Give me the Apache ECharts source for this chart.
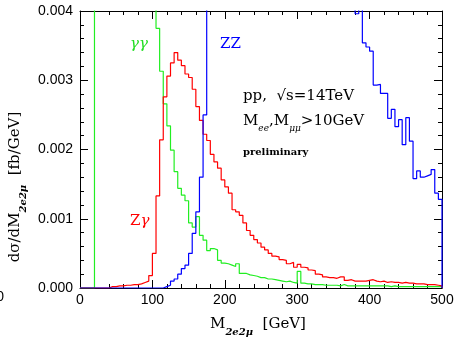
<!DOCTYPE html>
<html><head><meta charset="utf-8">
<script src="https://cdn.jsdelivr.net/npm/echarts@6/dist/echarts.min.js"></script>
<style>html,body{margin:0;padding:0;background:#fff}#c{width:457px;height:337px}</style>
</head><body><div id="c"></div>
<script>
// Histogram bins: 5 GeV wide, from 0 to 500 GeV (bin i covers [5i, 5i+5])
const binWidth = 5;
const xTicks = [0, 100, 200, 300, 400, 500];
const yTicks = [0.000, 0.001, 0.002, 0.003, 0.004];

// gamma-gamma (green); bins 20-105 GeV run far above the frame
const gammaGamma = [
  0,0,0,0, 0.03,0.03,0.028,0.026,0.024,0.022,0.02,0.018,0.016,0.014,0.012,0.011,0.01,0.009,0.008,0.006,0.0048,
  0.00375,0.00313,0.00266,0.00234,0.00199,0.00168,0.00144,0.00134,0.00126,0.00094,
  0.00088,0.00103,0.00076,0.00069,0.00054,0.00057,0.00055,0.00040,0.00036,0.00035,
  0.00033,0.00031,0.00035,0.00021,0.00021,0.00019,0.00018,0.00017,0.00015,0.00015,
  0.00013,0.00013,0.00012,0.00011,0.00010,0.00009,0.00010,0.00008,0.00007,0.00024,
  0.00007,0.00006,0.00006,0.00005,0.00005,0.00005,0.00004,0.00004,0.00004,0.00004,
  0.00003,0.00005,0.00003,0.00003,0.00003,0.00003,0.00003,0.00003,0.00003,0.00003,
  0.00003,0.00003,0.00003,0.00003,0.00002,0.00003,0.00002,0.00002,0.00002,0.00002,
  0.00002,0.00002,0.00002,0.00002,0.00002,0.00002,0.00002,0.00002,0.00002
];
// Z gamma (red)
const zGamma = [
  0,0,0,0,0,0,0,0, 0.00002,0.00002,0.00003,0.00003,0.00004,0.00004,0.00005,0.00005,0.00006,0.00008,0.00010,0.00018,
  0.00050,0.00133,0.00214,0.00276,0.00306,0.00325,0.00340,0.00329,0.00321,0.00309,
  0.00304,0.00287,0.00262,0.00242,0.00222,0.00213,0.00193,0.00182,0.00173,0.00156,
  0.00146,0.00137,0.00113,0.00110,0.00105,0.00094,0.00083,0.00076,0.00070,0.00065,
  0.00059,0.00055,0.00050,0.00046,0.00045,0.00041,0.00040,0.00035,0.00037,0.00030,
  0.00034,0.00030,0.00029,0.00026,0.00025,0.00020,0.00019,0.00016,0.00015,0.00015,
  0.00014,0.00016,0.00016,0.00011,0.00012,0.00010,0.00010,0.00010,0.00010,0.00011,
  0.00012,0.00010,0.00009,0.00010,0.00008,0.00009,0.00008,0.00008,0.00007,0.00008,
  0.00007,0.00007,0.00006,0.00006,0.00006,0.00005,0.00005,0.00005,0.00004,0.00003
];
// ZZ (blue); bins 175-380 GeV run far above the frame
const zz = [
  0,0,0,0,0,0,0,0,0,0,0,0,0,0,0,0,0,0,0,0,0,0,0,
  0.00002,0.00004,0.00010,0.00013,0.00020,0.00028,0.00033,0.00050,0.00079,0.00110,0.00160,0.00250,
  0.012,0.03,0.032,0.03,0.028,0.026,0.024,0.022,0.02,0.019,0.018,0.017,0.016,0.015,0.014,0.013,
  0.012,0.011,0.0105,0.01,0.0095,0.009,0.0085,0.008,0.0075,0.007,0.0068,0.0065,0.0062,0.006,
  0.0058,0.0056,0.0054,0.0052,0.005,0.0048,0.0046,0.0044,0.0043,0.0042,0.0041,
  0.00396,0.00420,0.00354,0.00348,0.00342,0.00293,0.00294,0.00281,0.00281,0.00245,
  0.00258,0.00233,0.00243,0.00207,0.00246,0.00212,0.00158,0.00169,0.00160,0.00162,
  0.00164,0.00171,0.00137,0.00128
];

function toSteps(vals) {
  const pts = vals.map((v, i) => [i * binWidth, v]);
  pts.push([vals.length * binWidth, vals[vals.length - 1]]);
  pts.push([vals.length * binWidth, 0]);
  return pts;
}

const serif = 'DejaVu Serif';
const sans = 'Liberation Sans';
const chart = echarts.init(document.getElementById('c'), null, {renderer: 'canvas'});
const axisCol = '#000';
const baseAxis = {
  axisLine: {show: true, onZero: false, lineStyle: {color: axisCol, width: 1}},
  axisTick: {show: true, inside: true, length: 8, lineStyle: {color: axisCol, width: 1}},
  minorTick: {show: true, splitNumber: 5, length: 4, lineStyle: {color: axisCol, width: 1}},
  splitLine: {show: false}, minorSplitLine: {show: false}
};
const subRich = {
  m: {fontFamily: serif, fontSize: 15, fill: '#000', lineHeight: 18, verticalAlign: 'top'},
  s: {fontFamily: serif, fontSize: 10, fontStyle: 'italic', fontWeight: 'bold', fill: '#000', lineHeight: 10, verticalAlign: 'top', padding: [10, 0, 0, 0]}
};
chart.setOption({
  animation: false,
  backgroundColor: '#fff',
  grid: {left: 80, right: 15, top: 11, bottom: 49, outerBoundsMode: 'none'},
  xAxis: [
    Object.assign({type: 'value', min: xTicks[0], max: xTicks[xTicks.length-1], interval: 100, position: 'bottom',
      axisLabel: {show: true, margin: 5, color: '#000', fontFamily: sans, fontSize: 14}}, baseAxis),
    Object.assign({type: 'value', min: xTicks[0], max: xTicks[xTicks.length-1], interval: 100, position: 'top',
      axisLabel: {show: false}}, baseAxis)
  ],
  yAxis: [
    Object.assign({type: 'value', min: yTicks[0], max: yTicks[yTicks.length-1], interval: 0.001, position: 'left',
      axisLabel: {show: true, margin: 7, color: '#000', fontFamily: sans, fontSize: 14, formatter: v => v.toFixed(3)}}, baseAxis),
    Object.assign({type: 'value', min: yTicks[0], max: yTicks[yTicks.length-1], interval: 0.001, position: 'right',
      axisLabel: {show: false}}, baseAxis)
  ],
  series: [
    {type: 'line', name: 'γγ', step: 'end', data: toSteps(gammaGamma), showSymbol: false, clip: true,
      lineStyle: {color: '#22ee22', width: 1.2}, z: 2},
    {type: 'line', name: 'Zγ', step: 'end', data: toSteps(zGamma), showSymbol: false, clip: true,
      lineStyle: {color: '#ff0000', width: 1.2}, z: 3},
    {type: 'line', name: 'ZZ', step: 'end', data: toSteps(zz), showSymbol: false, clip: true,
      lineStyle: {color: '#0000ff', width: 1.2}, z: 4}
  ],
  graphic: [
    {type: 'text', left: 130, top: 37, style: {text: 'γγ', fill: '#22dd22', font: 'italic 15px "DejaVu Serif"'}},
    {type: 'text', left: 220, top: 37, style: {text: 'ZZ', fill: '#0000ff', font: '15px "DejaVu Serif"'}},
    {type: 'text', left: 130, top: 214, style: {text: 'Z{i|γ}', fill: '#ff0000', font: '15px "DejaVu Serif"',
      rich: {i: {fontStyle: 'italic', fontFamily: serif, fontSize: 15, fill: '#ff0000'}}}},
    {type: 'text', left: 243, top: 89, style: {text: 'pp,  √s=14TeV', fill: '#000', font: '15px "DejaVu Serif"'}},
    {type: 'text', left: 243, top: 114, style: {
      text: '{m|M}{s|ee}{m|,M}{s|μμ}{m|>10GeV}',
      rich: {
        m: {fontFamily: serif, fontSize: 15, fill: '#000', lineHeight: 18, verticalAlign: 'top'},
        s: {fontFamily: serif, fontSize: 9, fontStyle: 'italic', fill: '#000', lineHeight: 10, verticalAlign: 'top', padding: [10, 0, 0, 0]}
      }}},
    {type: 'text', left: 243, top: 147, style: {text: 'preliminary', fill: '#000', font: 'bold 10px "DejaVu Serif"'}},
    {type: 'text', x: 258, y: 326, style: {
      text: '{m|M}{s|2e2μ}{m|  [GeV]}', align: 'center', verticalAlign: 'middle', rich: subRich}},
    {type: 'text', x: 17, y: 187, rotation: Math.PI / 2, style: {
      text: '{m|dσ/dM}{s|2e2μ}{m|  [fb/GeV]}', align: 'center', verticalAlign: 'middle', rich: subRich}},
    {type: 'text', x: 4, y: 297, style: {text: '0', align: 'right', verticalAlign: 'middle', fill: '#000', font: '14px "Liberation Sans"'}}
  ]
});
</script></body></html>
